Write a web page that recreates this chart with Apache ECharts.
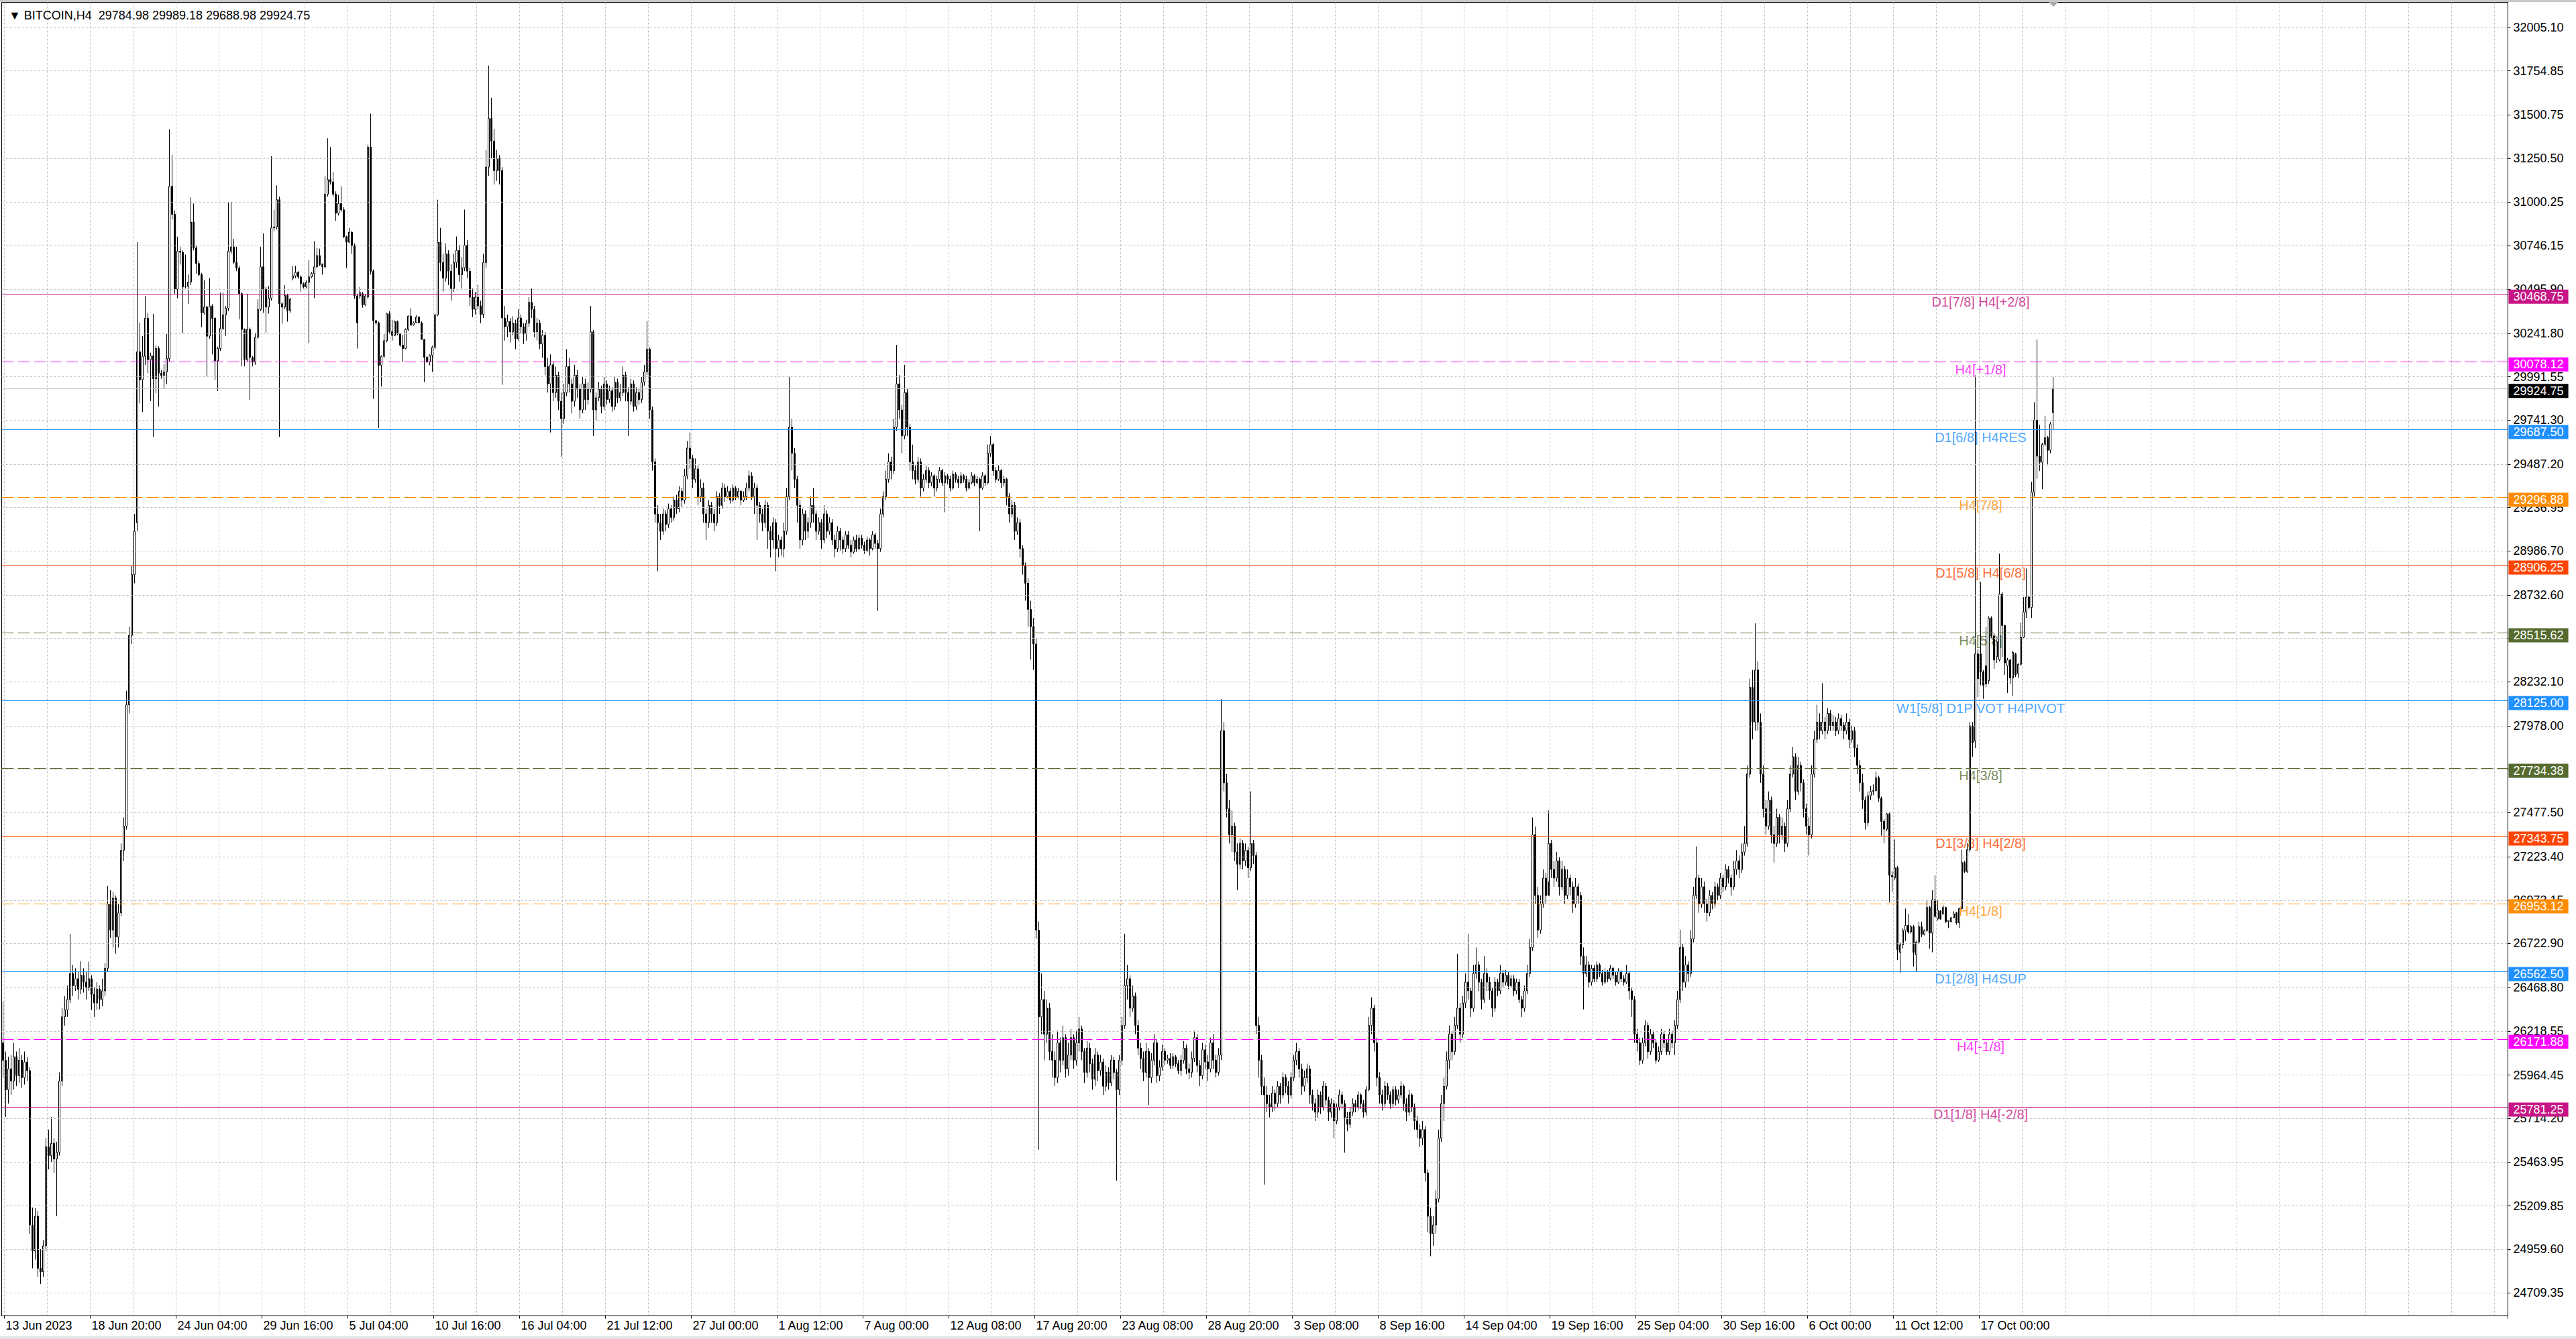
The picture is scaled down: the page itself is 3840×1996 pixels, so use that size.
<!DOCTYPE html>
<html>
<head>
<meta charset="utf-8">
<style>html,body{margin:0;padding:0;background:#fff;}#chart{width:3840px;height:1996px;}</style>
<script src="https://cdn.jsdelivr.net/npm/echarts@6/dist/echarts.min.js"></script>
</head>
<body>
<div id="chart"></div>
<script>
const symbolName = 'BITCOIN,H4';
const xTickLabels = ['13 Jun 2023','18 Jun 20:00','24 Jun 04:00','29 Jun 16:00','5 Jul 04:00','10 Jul 16:00','16 Jul 04:00','21 Jul 12:00','27 Jul 00:00','1 Aug 12:00','7 Aug 00:00','12 Aug 08:00','17 Aug 20:00','23 Aug 08:00','28 Aug 20:00','3 Sep 08:00','8 Sep 16:00','14 Sep 04:00','19 Sep 16:00','25 Sep 04:00','30 Sep 16:00','6 Oct 00:00','11 Oct 12:00','17 Oct 00:00'];
// price grid rows (all), and the row labels that are not hidden behind a price tag
const yTickValues = [32005.10,31754.85,31500.75,31250.50,31000.25,30746.15,30495.90,30241.80,29991.55,29741.30,29487.20,29236.95,28986.70,28732.60,28482.35,28232.10,27978.00,27727.75,27477.50,27223.40,26973.15,26722.90,26468.80,26218.55,25964.45,25714.20,25463.95,25209.85,24959.60,24709.35];
const yLabelValues = [32005.10,31754.85,31500.75,31250.50,31000.25,30746.15,30495.90,30241.80,29991.55,29741.30,29487.20,29236.95,28986.70,28732.60,28232.10,27978.00,27477.50,27223.40,26973.15,26722.90,26468.80,26218.55,25964.45,25714.20,25463.95,25209.85,24959.60,24709.35];
const levelValues = [30468.75,30078.12,29687.50,29296.88,28906.25,28515.62,28125.00,27734.38,27343.75,26953.12,26562.50,26171.88,25781.25];
const levelNames = ['D1[7/8] H4[+2/8]','H4[+1/8]','D1[6/8] H4RES','H4[7/8]','D1[5/8] H4[6/8]','H4[5/8]','W1[5/8] D1PIVOT H4PIVOT','H4[3/8]','D1[3/8] H4[2/8]','H4[1/8]','D1[2/8] H4SUP','H4[-1/8]','D1[1/8] H4[-2/8]'];

const open = [
26150,26050,25880,26000,25930,26070,25960,26050,25950,26040,
25990,25100,24950,25150,24850,24830,24980,25550,25500,25570,
25480,25520,25930,26300,26340,26400,26550,26480,26520,26460,
26540,26500,26470,26520,26430,26380,26460,26400,26450,26580,
26950,26800,26985,26760,26900,27260,27400,28100,28500,28850,
29150,30135,29974,30109,30328,30090,30112,29980,30154,30012,
29999,30019,30096,31089,30928,30496,30715,30709,30509,30512,
30537,30883,30734,30644,30580,30360,30393,30225,30399,30328,
30083,30154,30270,30348,30386,30715,30740,30651,30618,30470,
30264,30090,30264,30103,30075,30219,30380,30625,30496,30393,
30444,30850,30855,31012,30412,30393,30460,30373,30560,30573,
30593,30567,30528,30509,30535,30567,30586,30625,30690,30638,
30625,31044,31128,31115,31044,30934,30990,30954,30799,30767,
30825,30747,30457,30457,30470,30406,30451,31315,30599,30315,
30302,30057,30109,30199,30354,30251,30230,30309,30238,30173,
30154,30264,30341,30290,30303,30335,30303,30206,30103,30077,
30115,30161,30348,30767,30650,30560,30700,30600,30500,30650,
30720,30580,30620,30750,30600,30450,30380,30450,30400,30350,
30650,31200,31480,31350,31180,31250,31180,30330,30280,30310,
30250,30300,30210,30330,30280,30240,30300,30420,30380,30250,
30300,30180,30230,30050,29950,30060,29900,30000,29850,29750,
29900,30050,29950,29850,30000,29920,29800,29950,29860,29920,
30250,29800,29870,29920,29820,29950,29860,29910,29820,29960,
29870,29900,30000,29900,29850,29950,29820,29900,29860,29960,
30020,30150,29800,29500,29200,29150,29100,29200,29140,29230,
29180,29280,29230,29330,29280,29420,29580,29520,29400,29460,
29300,29350,29200,29150,29250,29200,29150,29300,29250,29350,
29300,29330,29280,29350,29300,29330,29280,29300,29350,29420,
29300,29350,29250,29200,29150,29250,29100,29050,29150,29000,
29050,29000,29100,29300,29700,29550,29400,29250,29050,29200,
29100,29150,29250,29200,29100,29150,29050,29200,29100,29150,
29050,29000,29100,29050,29000,29080,29020,28980,29050,29000,
29060,29020,28990,29050,29000,29080,29030,29000,29200,29300,
29400,29500,29450,29700,29950,29800,29650,29900,29700,29500,
29450,29400,29500,29350,29400,29450,29380,29420,29350,29400,
29450,29380,29420,29400,29350,29430,29400,29380,29420,29400,
29350,29380,29420,29380,29400,29350,29420,29380,29550,29600,
29450,29400,29450,29380,29400,29300,29200,29250,29100,29150,
29000,28900,28800,28650,28550,28450,26800,26300,26400,26200,
26350,26100,26050,25950,26150,26050,26180,26000,26080,26180,
26050,26150,26230,26100,25980,26120,26030,25940,26080,25990,
26040,25900,25980,25920,26050,25980,25880,26050,26250,26480,
26520,26350,26420,26250,26120,26060,25980,26100,25950,26050,
26150,25960,26010,26100,26050,26060,26020,26070,26030,25990,
26050,26120,26000,25980,26060,26180,26020,25960,26110,26040,
26000,26150,26050,25980,26080,27950,27650,27500,27350,27400,
27250,27180,27300,27200,27260,27160,27300,27230,26250,26050,
25900,25850,25800,25780,25860,25800,25900,25850,25950,25900,
25850,25950,26050,26100,26000,25900,25950,26000,25850,25800,
25750,25850,25780,25900,25820,25750,25800,25700,25780,25850,
25800,25720,25680,25750,25800,25780,25850,25800,25750,25880,
26250,26350,26150,25950,25850,25800,25900,25850,25800,25880,
25820,25850,25900,25800,25750,25850,25780,25700,25650,25600,
25650,25400,25150,25050,25100,25250,25600,25800,25900,26050,
26200,26100,26250,26350,26200,26380,26500,26450,26350,26550,
26600,26500,26400,26550,26500,26450,26350,26500,26450,26550,
26500,26540,26480,26520,26450,26500,26400,26350,26450,26550,
26700,27350,27000,26800,26950,27100,27000,27300,27150,27100,
27200,27050,27150,27000,27100,27050,26950,27050,27000,26650,
26550,26600,26500,26580,26520,26600,26550,26500,26560,26520,
26580,26540,26500,26560,26520,26500,26550,26450,26400,26200,
26150,26050,26150,26250,26100,26200,26150,26050,26100,26200,
26150,26100,26200,26150,26250,26400,26700,26500,26600,26550,
26750,27000,27100,26950,27050,26950,26900,27000,26950,27050,
27000,27100,27050,27150,27100,27050,27150,27200,27150,27250,
27300,27700,28200,28000,28300,28000,27700,27500,27400,27550,
27350,27300,27450,27350,27400,27300,27500,27700,27800,27600,
27750,27650,27500,27400,27350,27700,27900,28000,27950,28000,
27950,28050,27980,28000,27950,28020,27980,27950,28000,27900,
27950,27850,27750,27650,27550,27420,27575,27600,27605,27679,
27560,27427,27382,27471,27116,27101,27160,26672,26716,26798,
26827,26790,26820,26657,26731,26820,26775,26798,26931,26783,
26975,26864,26909,26894,26931,26849,26849,26872,26901,26842,
26924,27190,27138,27264,27978,27892,28393,28393,28289,28324,
28238,28600,28497,28376,28358,28738,28557,28324,28358,28255,
28393,28281,28333,28488,28635,28721,28661,29326,29740,29533,
29498,29602,29640,29567,29784.98];

const high = [
26389,26100,26070,26080,26150,26100,26120,26080,26100,26068,
26010,25200,25196,25180,24960,25012,25600,25650,25723,25600,
25580,25980,26350,26420,26480,26779,26600,26580,26560,26620,
26580,26560,26618,26540,26470,26500,26480,26520,26610,27054,
27031,27020,27000,26950,27300,27450,28180,28550,28900,29200,
30767,30302,30225,30457,30360,30130,30354,30170,30167,30030,
30064,30238,31418,31270,30950,30799,30741,30720,30696,30580,
31025,30990,30750,30660,30590,30547,30400,30560,30410,30335,
30165,30476,30476,30400,30999,30999,30786,30741,30630,30480,
30270,30470,30275,30110,30244,30438,30741,30818,30510,30515,
31263,30954,31095,31030,30420,30520,30470,30445,30631,30631,
30600,30575,30535,30547,30664,30595,30773,30734,30730,30645,
31147,31366,31315,31173,31060,31040,31089,30970,30805,30850,
30830,30760,30470,30509,30480,30465,31330,31508,30610,30320,
30310,30115,30238,30360,30370,30320,30315,30315,30245,30232,
30270,30345,30386,30310,30345,30340,30310,30210,30110,30120,
30170,30354,31012,30850,30700,30760,30720,30640,30700,30800,
30750,30680,30955,30780,30620,30500,30480,30520,30430,30700,
31300,31786,31600,31420,31300,31270,31200,30400,30350,30330,
30340,30320,30380,30350,30300,30320,30450,30500,30400,30330,
30320,30260,30250,30100,30120,30080,30050,30020,29900,29950,
30150,30100,29980,30060,30030,29950,29990,29980,29960,30400,
30260,29900,29960,29940,29990,29970,29940,29930,29990,29980,
29950,30050,30020,29930,29980,29970,29930,29920,29990,30060,
30313,30160,29820,29520,29250,29200,29230,29220,29260,29250,
29300,29310,29360,29350,29460,29620,29670,29540,29520,29480,
29400,29380,29230,29280,29270,29230,29330,29320,29380,29370,
29360,29350,29370,29360,29350,29340,29330,29380,29450,29440,
29380,29370,29270,29230,29280,29270,29130,29180,29170,29080,
29070,29150,29350,29991,29750,29580,29420,29280,29230,29220,
29180,29300,29350,29220,29180,29170,29250,29220,29180,29170,
29080,29130,29120,29070,29100,29100,29050,29070,29080,29080,
29080,29040,29070,29060,29100,29090,29050,29230,29330,29450,
29550,29530,29750,30175,30000,29830,30060,29920,29720,29600,
29480,29530,29520,29430,29480,29470,29440,29430,29420,29470,
29460,29440,29430,29420,29450,29440,29420,29440,29430,29420,
29400,29440,29430,29420,29410,29440,29430,29600,29650,29610,
29470,29480,29460,29420,29410,29320,29280,29270,29180,29170,
29020,28920,28830,28700,28600,28480,26850,26550,26450,26400,
26380,26200,26100,26220,26180,26250,26200,26150,26230,26200,
26220,26300,26250,26120,26160,26150,26060,26120,26100,26080,
26060,26020,26010,26080,26070,26000,26080,26300,26779,26600,
26540,26480,26440,26280,26150,26100,26150,26120,26090,26200,
26170,26050,26140,26120,26080,26090,26090,26080,26050,26080,
26160,26140,26030,26100,26220,26200,26050,26150,26140,26080,
26180,26200,26080,26120,28133,28000,27700,27550,27490,27420,
27300,27330,27320,27300,27280,27600,27320,27250,26300,26080,
25950,25900,25850,25900,25880,25930,25920,25980,25970,25930,
25980,26080,26150,26120,26030,25990,26030,26020,25880,25830,
25880,25870,25930,25920,25840,25830,25820,25800,25880,25870,
25820,25750,25780,25830,25820,25870,25860,25820,25900,26300,
26412,26370,26180,25980,25880,25930,25920,25870,25900,25900,
25880,25930,25910,25830,25880,25860,25800,25730,25680,25700,
25670,25420,25200,25150,25300,25650,25850,25950,26100,26250,
26220,26300,26664,26380,26420,26550,26779,26470,26600,26700,
26620,26520,26650,26580,26530,26470,26530,26520,26600,26570,
26570,26560,26540,26540,26520,26520,26420,26480,26600,26750,
27450,27398,27050,27000,27150,27130,27490,27320,27200,27250,
27220,27200,27170,27150,27120,27080,27100,27070,27020,26700,
26650,26620,26600,26600,26620,26610,26570,26580,26570,26600,
26590,26560,26580,26570,26540,26600,26560,26470,26420,26230,
26180,26180,26280,26270,26230,26220,26170,26130,26230,26220,
26170,26230,26220,26280,26450,26802,26720,26650,26620,26800,
27050,27283,27120,27100,27080,26980,27030,27020,27080,27070,
27130,27120,27180,27170,27120,27200,27261,27230,27300,27400,
27750,28250,28300,28569,28350,28050,27750,27550,27600,27570,
27400,27500,27470,27450,27420,27550,27750,27857,27820,27800,
27770,27670,27530,27450,27750,27950,28100,28050,28224,28030,
28080,28070,28040,28030,28050,28040,28000,28050,28020,27980,
27970,27870,27780,27700,27570,27600,27630,27640,27716,27690,
27570,27440,27480,27480,27140,27323,27170,26730,26810,26924,
26894,26830,26830,26740,26849,26849,26805,26975,26940,27030,
27116,26975,26915,26945,26935,26860,26875,26909,26905,26930,
27264,27200,27301,28000,28000,29999,28420,28808,28300,28548,
28610,28610,28510,28470,28971,28750,28560,28370,28365,28410,
28400,28340,28574,28721,28885,28730,29386,29844,30206,29714,
29610,29766,29650,29730,29989.18];

const low = [
25950,25723,25800,25850,25880,25900,25920,25890,25910,25930,
25050,24850,24900,24800,24759,24800,24950,25420,25460,25400,
25150,25500,25900,26250,26300,26380,26420,26450,26400,26430,
26440,26400,26450,26340,26300,26340,26343,26360,26420,26560,
26756,26700,26664,26700,26880,27200,27380,28050,28450,28800,
29100,29838,29787,30060,30012,29851,29645,29896,29819,29980,
29922,29948,30080,30900,30470,30444,30638,30244,30500,30412,
30520,30720,30586,30570,30277,30350,29993,30210,30120,29974,
29909,30140,30260,30225,30370,30700,30640,30600,30322,30051,
30051,30080,29858,30051,30060,30210,30370,30360,30244,30355,
30430,30830,30840,29645,30296,30380,30309,30360,30547,30560,
30555,30483,30500,30500,30186,30560,30444,30615,30630,30580,
30615,31030,31100,31030,30890,30921,30940,30790,30618,30760,
30700,30440,30154,30440,30390,30400,30440,30580,29864,30290,
29696,29935,30100,30190,30240,30200,30225,30230,30165,30077,
30150,30255,30285,30285,30300,30300,30206,29961,30070,30057,
30019,30150,30340,30600,30480,30540,30520,30430,30480,30620,
30540,30500,30600,30560,30400,30335,30350,30380,30300,30330,
30620,31150,31250,31100,31120,31100,29945,30200,30220,30190,
30230,30150,30200,30240,30180,30200,30280,30330,30220,30200,
30150,30100,30000,29900,29670,29850,29870,29800,29530,29720,
29880,29900,29780,29820,29870,29750,29780,29800,29830,29900,
29650,29740,29850,29780,29800,29830,29840,29790,29800,29840,
29850,29880,29850,29650,29830,29790,29800,29830,29840,29940,
30000,29750,29450,29150,28870,29050,29080,29100,29120,29150,
29160,29200,29210,29240,29260,29400,29460,29350,29380,29250,
29270,29150,29050,29120,29150,29100,29130,29200,29230,29270,
29290,29260,29270,29280,29290,29250,29270,29280,29330,29280,
29200,29050,29150,29100,29120,29000,28950,29000,28870,28950,
28960,28950,29080,29280,29450,29350,29150,29000,29020,29050,
29060,29120,29150,29050,29080,29000,29030,29060,29080,29020,
28950,28980,28990,28970,28980,29000,28950,28970,28980,28990,
29000,28970,28980,28960,28990,29000,28640,28980,29180,29280,
29380,29400,29430,29680,29750,29550,29630,29650,29450,29400,
29370,29380,29300,29330,29380,29350,29360,29300,29330,29380,
29360,29210,29370,29330,29340,29380,29350,29370,29380,29330,
29340,29370,29360,29370,29100,29340,29360,29370,29530,29420,
29380,29390,29350,29360,29250,29150,29180,29050,29080,28950,
28850,28700,28550,28360,28300,26750,25534,26200,26050,26150,
26050,25950,25900,25920,25980,26020,25950,25960,26050,26000,
26020,26100,26050,25920,25950,25980,25880,25900,25930,25960,
25850,25870,25880,25900,25940,25356,25850,26020,26230,26400,
26300,26330,26200,26080,26000,25930,25950,25792,25920,26020,
25920,25930,25990,26020,26030,26000,26000,26010,25970,25960,
26030,25970,25940,25950,26040,25980,25900,25940,26000,25930,
25980,26000,25950,25960,26050,27600,27450,27300,27250,27200,
27031,27150,27150,27170,27100,27140,27180,26200,25950,25850,
25333,25750,25720,25750,25760,25780,25800,25830,25860,25800,
25830,25930,26020,25950,25850,25870,25920,25800,25760,25700,
25720,25740,25760,25790,25700,25720,25600,25680,25760,25770,
25517,25640,25660,25730,25750,25760,25770,25720,25730,25870,
26200,26100,25900,25800,25760,25780,25820,25770,25780,25790,
25800,25830,25760,25700,25730,25750,25650,25600,25550,25560,
25350,25058,24920,24980,25050,25230,25580,25700,25880,26000,
26050,26080,26230,26150,26180,26350,26400,26300,26330,26520,
26450,26343,26380,26450,26400,26300,26330,26420,26430,26470,
26480,26460,26470,26420,26430,26380,26300,26330,26430,26530,
26680,26950,26756,26780,26930,26950,27080,27100,27050,27080,
27000,27030,26950,26980,27000,26900,26930,26950,26600,26343,
26530,26470,26480,26500,26500,26530,26480,26490,26500,26510,
26520,26480,26490,26500,26480,26490,26400,26300,26150,26100,
26022,26030,26130,26060,26080,26120,26030,26040,26080,26120,
26080,26080,26120,26080,26230,26380,26450,26470,26500,26530,
26730,26980,26900,26930,26900,26850,26880,26920,26930,26970,
26980,27020,27030,27070,27000,27030,27120,27100,27130,27230,
27280,27680,27900,27950,27950,27650,27450,27350,27380,27300,
27190,27280,27300,27320,27250,27280,27480,27680,27550,27580,
27600,27450,27350,27230,27330,27680,27880,27900,27930,27900,
27930,27950,27950,27920,27930,27950,27900,27930,27850,27880,
27800,27700,27600,27500,27380,27400,27550,27580,27600,27540,
27345,27301,27370,26960,27020,27090,26627,26553,26694,26738,
26780,26780,26590,26561,26720,26760,26770,26790,26694,26672,
26870,26855,26860,26890,26842,26812,26845,26868,26832,26812,
26920,27130,27130,27250,27800,27850,28143,28212,28134,28200,
28220,28480,28307,28341,28350,28376,28272,28168,28220,28151,
28260,28255,28325,28480,28600,28650,28600,29300,29403,29447,
29343,29590,29481,29550,29688.98];

const close = [
26050,25880,26000,25930,26070,25960,26050,25950,26040,25990,
25100,24950,25150,24850,24830,24980,25550,25500,25570,25480,
25520,25930,26300,26340,26400,26550,26480,26520,26460,26540,
26500,26470,26520,26430,26380,26460,26400,26450,26580,26950,
26800,26985,26760,26900,27260,27400,28100,28500,28850,29100,
30135,29974,30109,30328,30090,30112,29980,30154,30012,29999,
30019,30096,31089,30928,30496,30715,30709,30509,30512,30537,
30883,30734,30644,30580,30360,30393,30225,30399,30328,30083,
30154,30270,30348,30386,30715,30740,30651,30618,30470,30264,
30090,30264,30103,30075,30219,30380,30625,30496,30393,30444,
30850,30855,31012,30412,30393,30460,30373,30438,30573,30593,
30567,30528,30509,30535,30567,30586,30625,30690,30638,30625,
31044,31128,31115,31044,30934,30990,30954,30799,30767,30825,
30747,30457,30302,30476,30406,30457,31315,30599,30315,30302,
30057,30109,30199,30354,30251,30230,30309,30238,30173,30154,
30264,30341,30290,30303,30335,30303,30206,30103,30077,30115,
30161,30348,30767,30650,30560,30700,30600,30500,30650,30720,
30580,30620,30750,30600,30450,30380,30450,30400,30350,30650,
31200,31480,31350,31180,31250,31180,30330,30280,30310,30250,
30300,30210,30330,30280,30240,30300,30420,30380,30250,30300,
30180,30230,30050,29950,30060,29900,30000,29850,29750,29900,
30050,29950,29850,30000,29920,29800,29950,29860,29920,30250,
29800,29870,29920,29820,29950,29860,29910,29820,29960,29870,
29900,30000,29900,29850,29950,29820,29900,29860,29960,30020,
30150,29800,29500,29200,29150,29100,29200,29140,29230,29180,
29280,29230,29330,29280,29420,29580,29520,29400,29460,29300,
29350,29200,29150,29250,29200,29150,29300,29250,29350,29300,
29330,29280,29350,29300,29330,29280,29300,29350,29420,29300,
29350,29250,29200,29150,29250,29100,29050,29150,29000,29050,
29000,29100,29300,29700,29550,29400,29250,29050,29200,29100,
29150,29250,29200,29100,29150,29050,29200,29100,29150,29050,
29000,29100,29050,29000,29080,29020,28980,29050,29000,29060,
29020,28990,29050,29000,29080,29030,29000,29200,29300,29400,
29500,29450,29700,29950,29800,29650,29900,29700,29500,29450,
29400,29500,29350,29400,29450,29380,29420,29350,29400,29450,
29380,29420,29400,29350,29430,29400,29380,29420,29400,29350,
29380,29420,29380,29400,29350,29420,29380,29550,29600,29450,
29400,29450,29380,29400,29300,29200,29250,29100,29150,29000,
28900,28800,28650,28550,28450,26800,26300,26400,26200,26350,
26100,26050,25950,26150,26050,26180,26000,26080,26180,26050,
26150,26230,26100,25980,26120,26030,25940,26080,25990,26040,
25900,25980,25920,26050,25980,25880,26050,26250,26480,26520,
26350,26420,26250,26120,26060,25980,26100,25950,26050,26150,
25960,26010,26100,26050,26060,26020,26070,26030,25990,26050,
26120,26000,25980,26060,26180,26020,25960,26110,26040,26000,
26150,26050,25980,26080,27950,27650,27500,27350,27400,27250,
27180,27300,27200,27260,27160,27300,27230,26250,26050,25900,
25850,25800,25780,25860,25800,25900,25850,25950,25900,25850,
25950,26050,26100,26000,25900,25950,26000,25850,25800,25750,
25850,25780,25900,25820,25750,25800,25700,25780,25850,25800,
25720,25680,25750,25800,25780,25850,25800,25750,25880,26250,
26350,26150,25950,25850,25800,25900,25850,25800,25880,25820,
25850,25900,25800,25750,25850,25780,25700,25650,25600,25650,
25400,25150,25050,25100,25250,25600,25800,25900,26050,26200,
26100,26250,26350,26200,26380,26500,26450,26350,26550,26600,
26500,26400,26550,26500,26450,26350,26500,26450,26550,26500,
26540,26480,26520,26450,26500,26400,26350,26450,26550,26700,
27350,27000,26800,26950,27100,27000,27300,27150,27100,27200,
27050,27150,27000,27100,27050,26950,27050,27000,26650,26550,
26600,26500,26580,26520,26600,26550,26500,26560,26520,26580,
26540,26500,26560,26520,26500,26550,26450,26400,26200,26150,
26050,26150,26250,26100,26200,26150,26050,26100,26200,26150,
26100,26200,26150,26250,26400,26700,26500,26600,26550,26750,
27000,27100,26950,27050,26950,26900,27000,26950,27050,27000,
27100,27050,27150,27100,27050,27150,27200,27150,27250,27300,
27700,28200,28000,28300,28000,27700,27500,27400,27550,27350,
27300,27450,27350,27400,27300,27500,27700,27800,27600,27750,
27650,27500,27400,27350,27700,27900,28000,27950,28000,27950,
28050,27980,28000,27950,28020,27980,27950,28000,27900,27950,
27850,27750,27650,27550,27420,27575,27600,27605,27679,27560,
27427,27382,27471,27116,27109,27160,26687,26716,26798,26827,
26790,26820,26672,26731,26820,26775,26798,26931,26783,26975,
26879,26916,26864,26931,26849,26857,26872,26894,26842,26924,
27190,27138,27264,27978,27880,28393,28250,28289,28212,28220,
28600,28497,28358,28462,28738,28557,28341,28358,28255,28402,
28272,28333,28488,28635,28721,28661,29326,29740,29533,29498,
29602,29640,29567,29719,29924.75];

// ---------- styles / layout (not data) ----------
const FONT = "'Liberation Sans', Arial, 'DejaVu Sans', sans-serif";
const levelColors = ['#C71585','#FF00FF','#1E90FF','#FF8C00','#FF4500','#556B2F','#1E90FF','#556B2F','#FF4500','#FF8C00','#1E90FF','#FF00FF','#C71585'];
const levelDashed = [false,true,false,true,false,true,false,true,false,true,false,true,false];
const N_SLOTS = 934;          // visible bar slots incl. right-side chart shift
const LABEL_SLOT = 737;       // slot where level captions are centred
const Y_MIN = 24575.8, Y_MAX = 32150.2;

const categories = Array.from({length: N_SLOTS}, (_, i) => String(i));
const candleData = close.map((c, i) => [open[i], c, low[i], high[i]]);
const last = close.length - 1;
const titleText = '\u25BC ' + symbolName + ' \u00a0' +
  [open[last], high[last], low[last], close[last]].map(v => v.toFixed(2)).join(' ');

const labelIdx = i => (i - 1) % 32 === 0 && i <= 1 + 32 * (xTickLabels.length - 1);

const tagLabel = (text, bg) => ({
  show: true, position: 'end', distance: 1, offset: [0, 4], formatter: text,
  backgroundColor: bg, color: '#ffffff', padding: [2, 7, 2, 7], lineHeight: 17,
  fontSize: 18, fontFamily: FONT
});
const tagItems = levelValues.map((v, i) => ({
  yAxis: v,
  lineStyle: {color: levelColors[i], type: levelDashed[i] ? [18, 6] : 'solid', width: 1},
  label: tagLabel(v.toFixed(2), levelColors[i])
}));
tagItems.push({
  yAxis: close[last],
  lineStyle: {color: '#C0C0C0', type: 'solid', width: 1},
  label: tagLabel(close[last].toFixed(2), '#000000')
});

const chart = echarts.init(document.getElementById('chart'), null, {renderer: 'svg', width: 3840, height: 1996});
chart.setOption({
  animation: false,
  backgroundColor: '#ffffff',
  textStyle: {fontFamily: FONT},
  title: {text: titleText, left: 8, top: 9,
          textStyle: {fontSize: 18, fontWeight: 'normal', color: '#000', fontFamily: FONT}},
  grid: {left: 2.5, right: 101.5, top: 3.5, bottom: 34.5, show: true, borderColor: '#000', borderWidth: 1, backgroundColor: 'transparent'},
  xAxis: {
    type: 'category', data: categories, boundaryGap: true,
    axisLine: {show: true, lineStyle: {color: '#000', width: 1}},
    axisTick: {show: true, interval: (i) => labelIdx(i), length: 4, lineStyle: {color: '#000'}},
    axisLabel: {interval: (i) => labelIdx(i), formatter: (v, i) => xTickLabels[(i - 1) / 32] || '',
                align: 'left', margin: 5, color: '#000', fontSize: 18, fontFamily: FONT},
    splitLine: {show: true, interval: (i) => (i - 1) % 16 === 0, lineStyle: {color: '#C0C0C0', type: [3, 3], width: 1}}
  },
  yAxis: {
    type: 'value', position: 'right', min: Y_MIN, max: Y_MAX, scale: true,
    axisLine: {show: true, lineStyle: {color: '#000', width: 1}},
    axisTick: {show: true, length: 4, customValues: yTickValues, lineStyle: {color: '#000'}},
    axisLabel: {customValues: yLabelValues, formatter: v => Number(v).toFixed(2), color: '#000',
                fontSize: 18, lineHeight: 18, margin: 8, fontFamily: FONT},
    splitLine: {show: false}
  },
  series: [
    {
      name: 'grid', type: 'line', data: [], silent: true, z: 1,
      markLine: {symbol: ['none', 'none'], silent: true, animation: false,
                 label: {show: false},
                 lineStyle: {color: '#C0C0C0', type: [3, 3], width: 1},
                 data: yTickValues.map(v => ({yAxis: v}))}
    },
    {
      name: 'levels', type: 'line', data: [], silent: true, z: 2,
      markLine: {symbol: ['none', 'none'], silent: true, animation: false, data: tagItems}
    },
    {
      name: 'captions', type: 'scatter', silent: true, z: 2, symbol: 'rect', symbolSize: 1,
      itemStyle: {color: 'rgba(0,0,0,0)'},
      labelLayout: {hideOverlap: false},
      data: levelValues.map((v, i) => ({
        value: [LABEL_SLOT, v],
        label: {show: true, position: 'bottom', distance: 1, formatter: levelNames[i],
                color: levelColors[i], fontSize: 20, fontFamily: FONT}
      }))
    },
    {
      name: symbolName, type: 'candlestick', data: candleData, z: 3,
      large: false, progressive: 0, barWidth: 2, silent: true,
      itemStyle: {color: '#ffffff', color0: '#000000', borderColor: '#000000', borderColor0: '#000000',
                  borderColorDoji: '#000000', borderWidth: 1}
    }
  ],
  graphic: [
    {type: 'rect', shape: {x: 0, y: 0, width: 3840, height: 3}, style: {fill: '#C8C8C8'}, silent: true, z: 10},
    {type: 'polygon', shape: {points: [[3054, 3], [3068, 3], [3061, 10]]}, style: {fill: '#A8A8A8'}, silent: true, z: 10},
    {type: 'rect', shape: {x: 0, y: 1992, width: 3840, height: 4}, style: {fill: '#E4E4E4'}, silent: true, z: 10}
  ]
});
</script>
</body>
</html>
